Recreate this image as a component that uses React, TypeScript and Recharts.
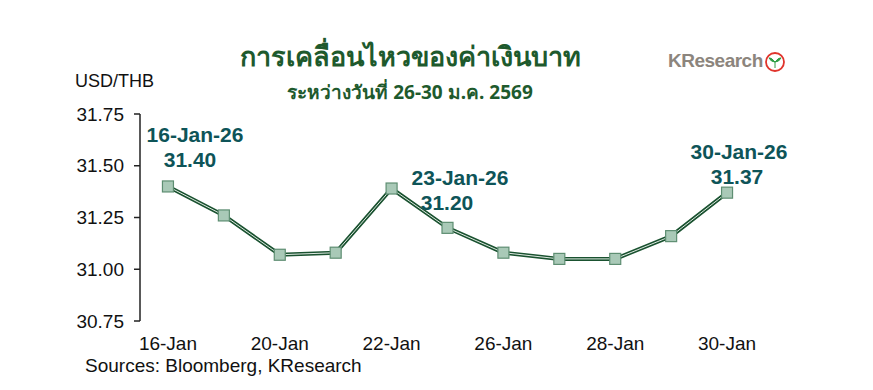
import React from 'react';
import { LineChart, Line, XAxis, YAxis } from 'recharts';

// USD/THB daily closes, 16-30 Jan 2026
const dates = ['16-Jan', '19-Jan', '20-Jan', '21-Jan', '22-Jan', '23-Jan', '26-Jan', '27-Jan', '28-Jan', '29-Jan', '30-Jan'];
const usdThb = [31.40, 31.26, 31.07, 31.08, 31.39, 31.20, 31.08, 31.05, 31.05, 31.16, 31.37];
const yTicks = [30.75, 31.0, 31.25, 31.5, 31.75];
const labelIdx = [0, 2, 4, 6, 8, 10];
const boundaryTicks = [-0.5, 0.5, 1.5, 2.5, 3.5, 4.5, 5.5, 6.5, 7.5, 8.5, 9.5, 10.5];

const notes = [
  { date: '16-Jan-26', value: '31.40', x: 195, y: 123, vx: 190 },
  { date: '23-Jan-26', value: '31.20', x: 460, y: 166, vx: 447 },
  { date: '30-Jan-26', value: '31.37', x: 739, y: 140, vx: 737 },
];

const data = dates.map((d, i) => ({ idx: i, date: d, rate: usdThb[i] }));

const SquareDot = (props: any) => {
  const { cx, cy } = props;
  if (cx == null || cy == null) return null;
  return <rect x={cx - 5.5} y={cy - 5.5} width={11} height={11} fill="#a9c9b7" stroke="#5e8e72" strokeWidth={1.2} />;
};

const font = 'Arial, "Liberation Sans", sans-serif';

export default function App() {
  return (
    <div style={{ position: 'absolute', left: 0, top: 0, width: 873, height: 390, background: '#fff', fontFamily: font }}>
      <div style={{ position: 'absolute', left: 0, width: 820, top: 38, textAlign: 'center', fontFamily: '"Noto Sans", sans-serif', fontWeight: 700, fontSize: 27, color: '#1e5a2d', lineHeight: '36px' }}>
        การเคลื่อนไหวของค่าเงินบาท
      </div>
      <div style={{ position: 'absolute', left: 0, width: 820, top: 80, textAlign: 'center', fontFamily: '"Noto Sans", sans-serif', fontWeight: 700, fontSize: 19, color: '#1e5a2d', lineHeight: '24px' }}>
        ระหว่างวันที่ 26-30 ม.ค. 2569
      </div>
      <div style={{ position: 'absolute', left: 668, top: 50, fontFamily: font, fontWeight: 700, fontSize: 19, color: '#8c857d', letterSpacing: -0.5 }}>
        KResearch
      </div>
      <svg style={{ position: 'absolute', left: 764, top: 51 }} width={22} height={22}>
        <circle cx={11} cy={11} r={9} fill="#fff" stroke="#e0342c" strokeWidth={1.8} />
        <path d="M11 17 L11 11 Q7 6 5 7 Q7 11 11 11 Q15 6 17 7 Q15 11 11 11" fill="#2e9e46" stroke="#2e9e46" strokeWidth={1} />
      </svg>
      <div style={{ position: 'absolute', left: 75, top: 71, fontSize: 18, color: '#111' }}>USD/THB</div>
      <div style={{ position: 'absolute', left: 85, top: 355, fontSize: 19, color: '#111' }}>Sources: Bloomberg, KResearch</div>

      <LineChart width={873} height={390} data={data} margin={{ top: 114, right: 118, left: 80, bottom: 39 }}>
        <XAxis
          xAxisId="labels"
          dataKey="idx"
          type="number"
          domain={[-0.5, 10.5]}
          ticks={labelIdx}
          tickFormatter={(v: number) => dates[v]}
          tickLine={false}
          axisLine={false}
          tickMargin={10}
          height={30}
          tick={{ fontSize: 19, fill: '#111', fontFamily: font }}
          interval={0}
        />
        <XAxis
          xAxisId="bounds"
          dataKey="idx"
          type="number"
          domain={[-0.5, 10.5]}
          ticks={boundaryTicks}
          tick={false}
          tickSize={6}
          axisLine={{ stroke: '#222', strokeWidth: 1.5 }}
          tickLine={{ stroke: '#222', strokeWidth: 1.5 }}
          height={0}
          interval={0}
        />
        <YAxis
          width={60}
          domain={[30.75, 31.75]}
          ticks={yTicks}
          tickFormatter={(v: number) => v.toFixed(2)}
          tickSize={6}
          tickMargin={10}
          axisLine={{ stroke: '#222', strokeWidth: 1.5 }}
          tickLine={{ stroke: '#222', strokeWidth: 1.5 }}
          tick={{ fontSize: 19, fill: '#111', fontFamily: font }}
          interval={0}
        />
        <Line xAxisId="bounds" dataKey="rate" type="linear" stroke="#1a5230" strokeWidth={4} dot={false} isAnimationActive={false} />
        <Line xAxisId="bounds" dataKey="rate" type="linear" stroke="#dfeae2" strokeWidth={1} dot={<SquareDot />} activeDot={false} isAnimationActive={false} />
      </LineChart>

      {notes.map(n => (
        <React.Fragment key={n.date}>
          <div style={{ position: 'absolute', left: n.x - 60, width: 120, top: n.y, textAlign: 'center', fontWeight: 700, fontSize: 21, color: '#0e5458' }}>{n.date}</div>
          <div style={{ position: 'absolute', left: n.vx - 60, width: 120, top: n.y + 25, textAlign: 'center', fontWeight: 700, fontSize: 21, color: '#0e5458' }}>{n.value}</div>
        </React.Fragment>
      ))}
    </div>
  );
}
